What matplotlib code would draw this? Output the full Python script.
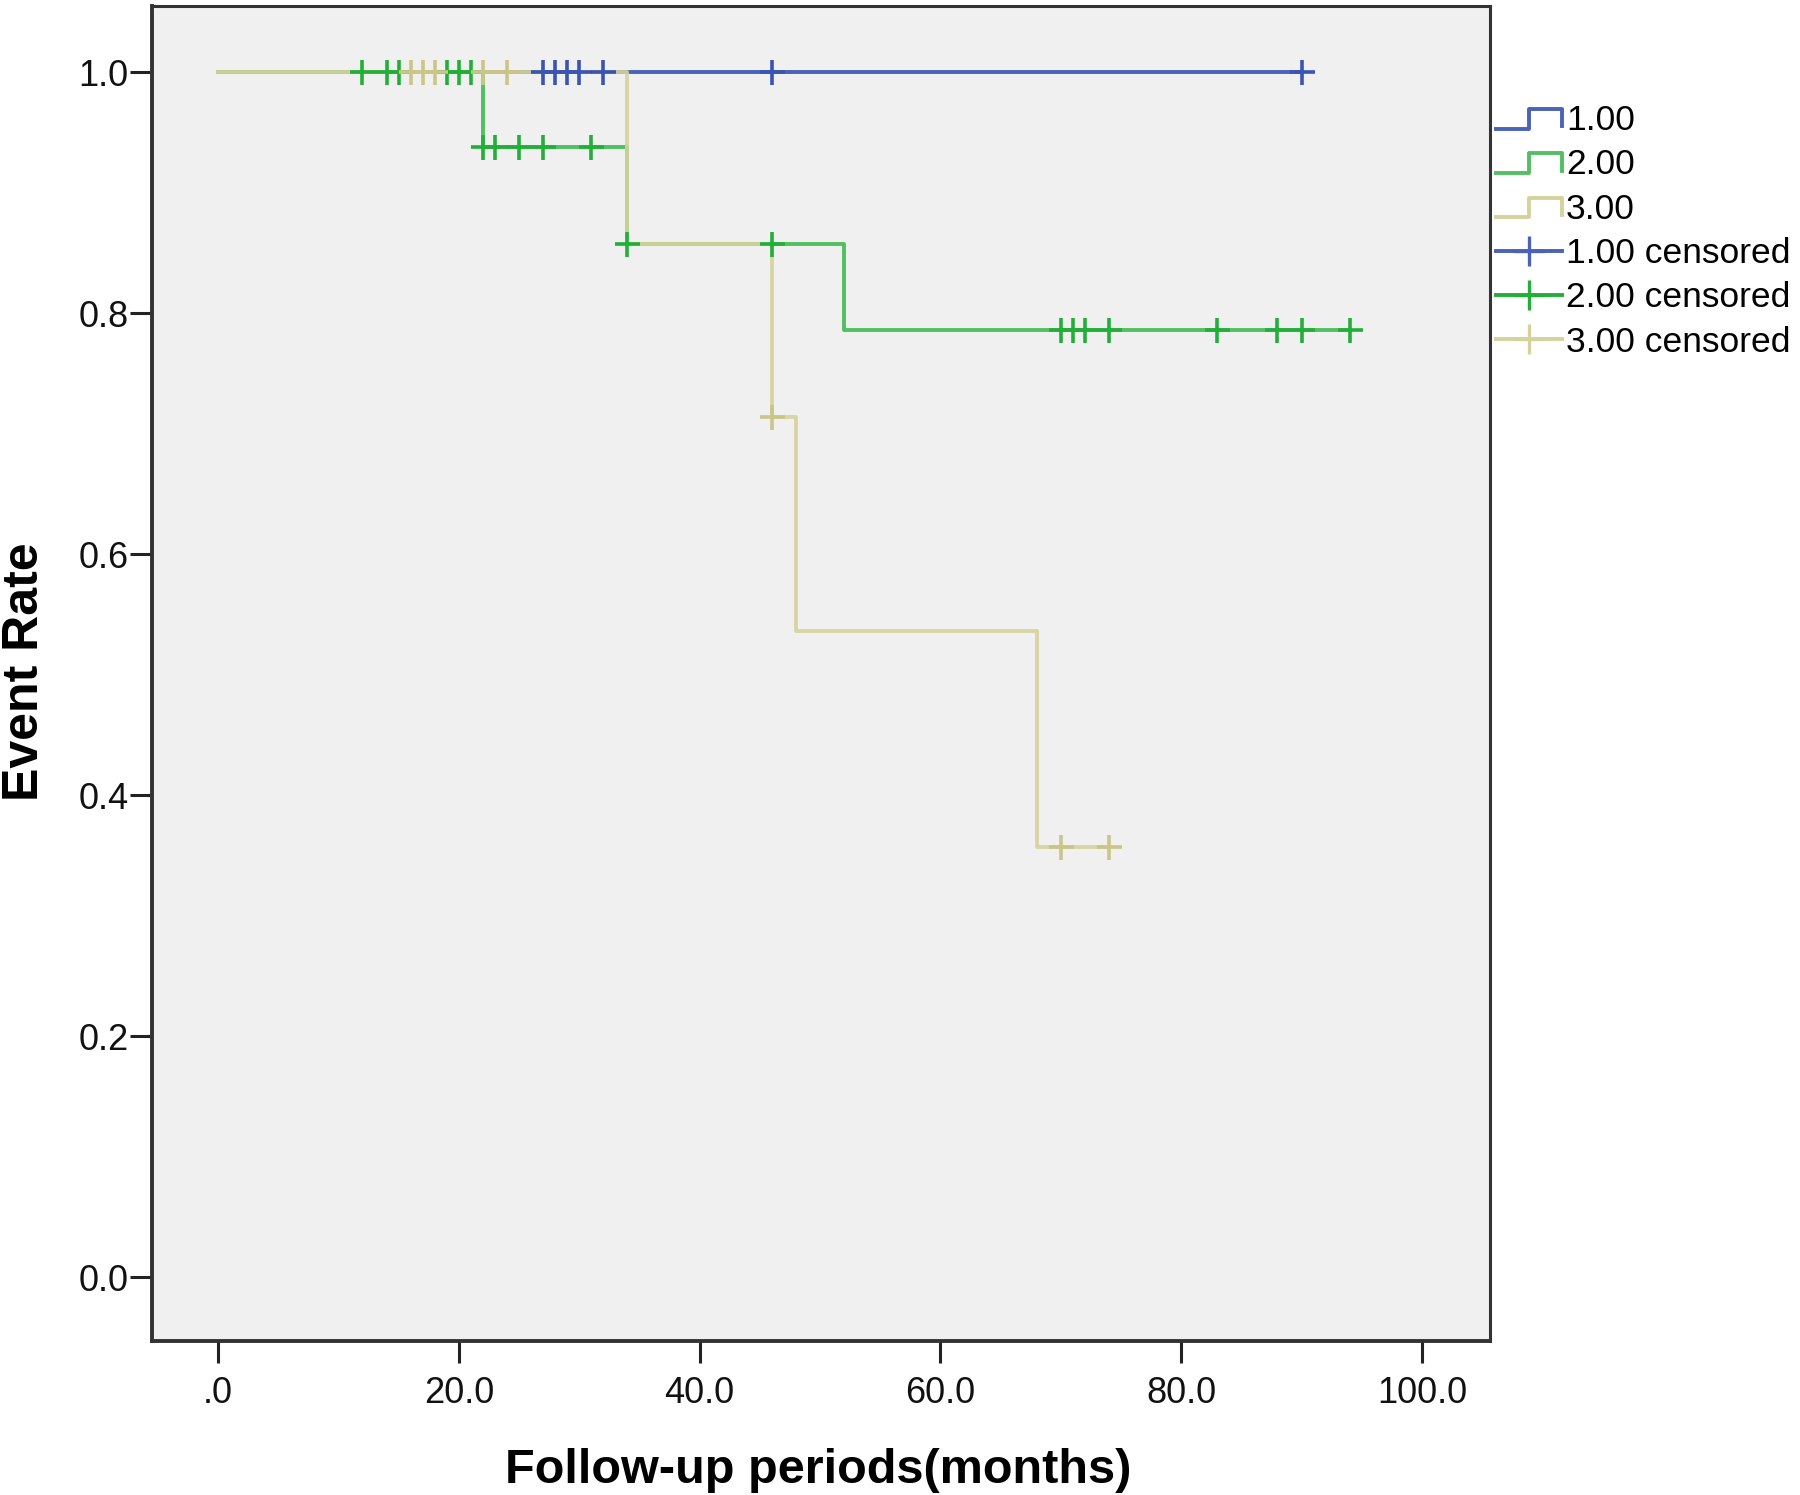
import matplotlib
matplotlib.use("Agg")
import matplotlib.pyplot as plt
from matplotlib.lines import Line2D
from matplotlib.legend_handler import HandlerBase

plt.rcParams["font.family"] = ["Liberation Sans", "DejaVu Sans"]

# ---- data (Kaplan-Meier style step curves) ----
g1_t = [0, 90]
g1_s = [1.0, 1.0]
g1_cens_t = [27, 28, 29, 30, 32, 46, 90]
g1_cens_s = [1.0, 1.0, 1.0, 1.0, 1.0, 1.0, 1.0]

g2_t = [0, 22, 34, 52, 94]
g2_s = [1.0, 0.9375, 0.857, 0.786, 0.786]
g2_cens_t = [12, 14, 15, 19, 20, 21, 22, 23, 25, 27, 31, 34, 46,
             70, 71, 72, 74, 83, 88, 90, 94]
g2_cens_s = [1.0] * 6 + [0.9375] * 5 + [0.857] * 2 + [0.786] * 8

g3_t = [0, 34, 46, 48, 68, 74]
g3_s = [1.0, 0.857, 0.714, 0.536, 0.357, 0.357]
g3_cens_t = [16, 17, 18, 22, 24, 46, 70, 74]
g3_cens_s = [1.0] * 5 + [0.714] + [0.357] * 2

labels = ["1.00", "2.00", "3.00", "1.00 censored", "2.00 censored", "3.00 censored"]
x_ticks = [0, 20, 40, 60, 80, 100]
x_ticklabels = [".0", "20.0", "40.0", "60.0", "80.0", "100.0"]
y_ticks = [0.0, 0.2, 0.4, 0.6, 0.8, 1.0]

C_BLUE, C_BLUE_M = "#4a62b8", "#3a54b4"
C_GREEN, C_GREEN_M = "#52bf62", "#22af38"
C_YEL, C_YEL_M = "#d6d29c", "#cbc588"


class StepHandler(HandlerBase):
    """Legend handle drawn as a little survival step."""

    def create_artists(self, legend, orig_handle, xdescent, ydescent,
                       width, height, fontsize, trans):
        x0 = -xdescent
        x1 = x0 + width
        xm = x0 + 0.5 * width
        ylo = -ydescent + 0.05 * height
        yhi = -ydescent + 0.85 * height
        ln = Line2D([x0, xm, xm, x1, x1], [ylo, ylo, yhi, yhi, ylo + 0.1 * height],
                    color=orig_handle.get_color(), lw=orig_handle.get_linewidth(),
                    transform=trans)
        return [ln]


fig = plt.figure(figsize=(18, 14.95), dpi=100)
ax = fig.add_axes([152 / 1800, 1 - 1341 / 1495, (1490 - 152) / 1800, (1341 - 6) / 1495])
ax.set_facecolor("#f0f0f0")

lw = 2.8
ax.step(g1_t, g1_s, where="post", color=C_BLUE, lw=lw, zorder=2)
ax.step(g2_t, g2_s, where="post", color=C_GREEN, lw=lw, zorder=3)
ax.step(g3_t, g3_s, where="post", color=C_YEL, lw=lw, alpha=0.9, zorder=4)

mk = dict(marker="+", linestyle="none", markersize=18, markeredgewidth=2.6)
ax.plot(g1_cens_t, g1_cens_s, color=C_BLUE_M, zorder=5, **mk)
ax.plot(g2_cens_t, g2_cens_s, color=C_GREEN_M, zorder=6, **mk)
ax.plot(g3_cens_t, g3_cens_s, color=C_YEL_M, zorder=7, **mk)

ax.set_xlim(-5.48, 105.65)
ax.set_ylim(-0.0531, 1.0548)
ax.set_xticks(x_ticks)
ax.set_xticklabels(x_ticklabels)
ax.set_yticks(y_ticks)
ax.set_yticklabels([f"{v:.1f}" for v in y_ticks])
ax.tick_params(axis="both", direction="out", length=16, width=2.2,
               color="#222222", labelsize=26, labelcolor="#111111")
ax.tick_params(axis="y", pad=1)
ax.tick_params(axis="x", pad=9)
for side, sp in ax.spines.items():
    sp.set_color("#333333")
    sp.set_linewidth(2.8 if side in ("left", "bottom") else 2.2)

fig.text(818 / 1800, 1 - 1483 / 1495, "Follow-up periods(months)",
         fontsize=35, fontweight="bold", ha="center", va="baseline")
fig.text(25 / 1800, 1 - 672 / 1495, "Event Rate", rotation=90,
         fontsize=36, fontweight="bold", ha="center", va="center")

# legend proxies
step_handles = [Line2D([], [], color=c, lw=2.8) for c in (C_BLUE, C_GREEN, C_YEL)]
cens_handles = [Line2D([], [], color=c, lw=2.8, marker="+", markersize=22,
                       markeredgewidth=2.4) for c in (C_BLUE, C_GREEN_M, C_YEL)]
hmap = {h: StepHandler() for h in step_handles}
leg = fig.legend(step_handles + cens_handles, labels,
                 loc="upper left", bbox_to_anchor=(1496 / 1800, 1 - 104 / 1495),
                 frameon=False, fontsize=25.5, handlelength=1.85, handletextpad=0.12,
                 labelspacing=0.32, borderpad=0, borderaxespad=0, numpoints=1,
                 handler_map=hmap)

fig.savefig("out.png", dpi=100, facecolor="white")
